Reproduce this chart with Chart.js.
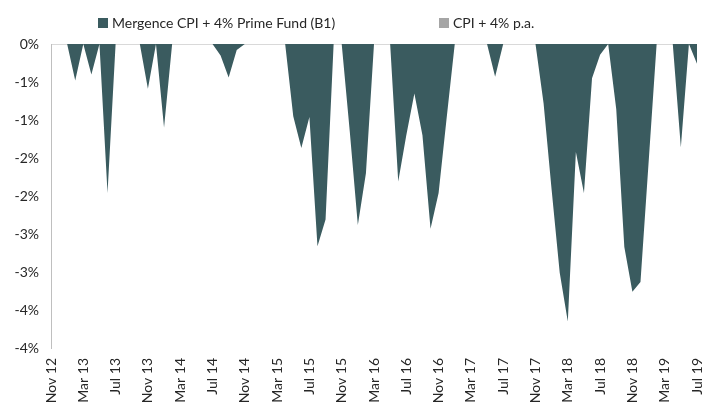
<!DOCTYPE html>
<html>
<head>
<meta charset="utf-8">
<script src="https://cdn.jsdelivr.net/npm/chart.js@4"></script>
<style>
    body { margin: 0; background: #fff; font-family: Lato, "Liberation Sans", sans-serif; }
    #wrap { position: relative; width: 704px; height: 405px; }
    #legend { position: absolute; top: 0; left: 0; width: 704px; height: 40px; font-size: 14px; color: #262626; }
    .item { position: absolute; top: 14px; display: flex; align-items: center; }
    .box { width: 10px; height: 10px; margin-right: 4px; }
</style>
</head>
<body>
<div id="wrap">
    <canvas id="chart" width="704" height="405"></canvas>
    <div id="legend"></div>
</div>
<script>
// Мітки місяців: з листопада 2012 по липень 2019
const monthNames = ['Jan', 'Feb', 'Mar', 'Apr', 'May', 'Jun', 'Jul', 'Aug', 'Sep', 'Oct', 'Nov', 'Dec'];
const startYear = 2012;
const startMonth = 10; // листопад
const monthCount = 81;

// Просідання фонду, % (по місяцях)
const fundDrawdown = [
    0, 0, 0, -0.48, 0, -0.40, 0, -1.96, 0, 0,
    0, 0, -0.59, 0, -1.10, 0, 0, 0, 0, 0,
    0, -0.15, -0.44, -0.08, 0, 0, 0, 0, 0, 0,
    -0.95, -1.37, -0.96, -2.66, -2.31, 0, 0, -1.15, -2.38, -1.70,
    0, 0, 0, -1.81, -1.20, -0.65, -1.20, -2.43, -1.96, -0.97,
    0, 0, 0, 0, 0, -0.43, 0, 0, 0, 0,
    0, -0.78, -1.92, -3.01, -3.65, -1.42, -1.96, -0.45, -0.14, 0,
    -0.86, -2.67, -3.26, -3.13, -1.57, 0, 0, 0, -1.36, 0,
    -0.26
];

// Просідання бенчмарку CPI + 4% (немає)
const cpiDrawdown = new Array(monthCount).fill(0);

const seriesNames = ['Mergence CPI + 4% Prime Fund (B1)', 'CPI + 4% p.a.'];
const seriesColors = ['#3A5B5F', '#A5A5A5'];
const legendLeft = [98, 439];

// Побудова міток
const labels = [];
for (let i = 0; i < monthCount; i++) {
    const m = (startMonth + i) % 12;
    const y = startYear + Math.floor((startMonth + i) / 12);
    labels.push(monthNames[m] + ' ' + String(y).slice(2));
}

// Легенда
const legend = document.getElementById('legend');
seriesNames.forEach((name, i) => {
    const item = document.createElement('div');
    item.className = 'item';
    item.style.left = legendLeft[i] + 'px';
    item.innerHTML = `<span class="box" style="background:${seriesColors[i]}"></span><span>${name}</span>`;
    legend.appendChild(item);
});

// Формат як в Excel: округлення від нуля
function pct(v) {
    const r = Math.round(Math.abs(v));
    return (v < 0 && r !== 0 ? '-' : '') + r + '%';
}

const ctx = document.getElementById('chart').getContext('2d');
new Chart(ctx, {
    type: 'line',
    data: {
        labels: labels,
        datasets: [{
            label: seriesNames[0],
            data: fundDrawdown,
            backgroundColor: seriesColors[0],
            borderWidth: 0,
            pointRadius: 0,
            tension: 0,
            fill: 'origin'
        }, {
            label: seriesNames[1],
            data: cpiDrawdown,
            backgroundColor: seriesColors[1],
            borderWidth: 0,
            pointRadius: 0,
            tension: 0,
            fill: 'origin'
        }]
    },
    options: {
        responsive: false,
        animation: false,
        layout: { padding: { top: 44, right: 7, left: 0, bottom: 0 } },
        plugins: { legend: { display: false }, tooltip: { enabled: false } },
        scales: {
            x: {
                offset: false,
                grid: { display: false, drawTicks: false },
                border: { display: false },
                ticks: {
                    autoSkip: false,
                    minRotation: 90,
                    maxRotation: 90,
                    padding: 10,
                    color: '#262626',
                    font: { family: 'Lato', size: 14 },
                    callback: (v, i) => (i % 4 === 0 ? labels[i] : '')
                },
                afterFit: (s) => {
                    s.height = 57;
                    s.paddingLeft = 0;
                    s.paddingRight = 0;
                }
            },
            y: {
                min: -4,
                max: 0,
                grid: {
                    drawTicks: false,
                    color: (c) => (c.tick && c.tick.value === 0 ? '#D9D9D9' : 'rgba(0,0,0,0)')
                },
                border: { display: true, color: '#BFBFBF', width: 1 },
                ticks: {
                    stepSize: 0.5,
                    padding: 12,
                    color: '#262626',
                    font: { family: 'Lato', size: 14 },
                    callback: (v) => pct(v)
                },
                afterFit: (s) => { s.width = 51; }
            }
        }
    }
});
</script>
</body>
</html>
